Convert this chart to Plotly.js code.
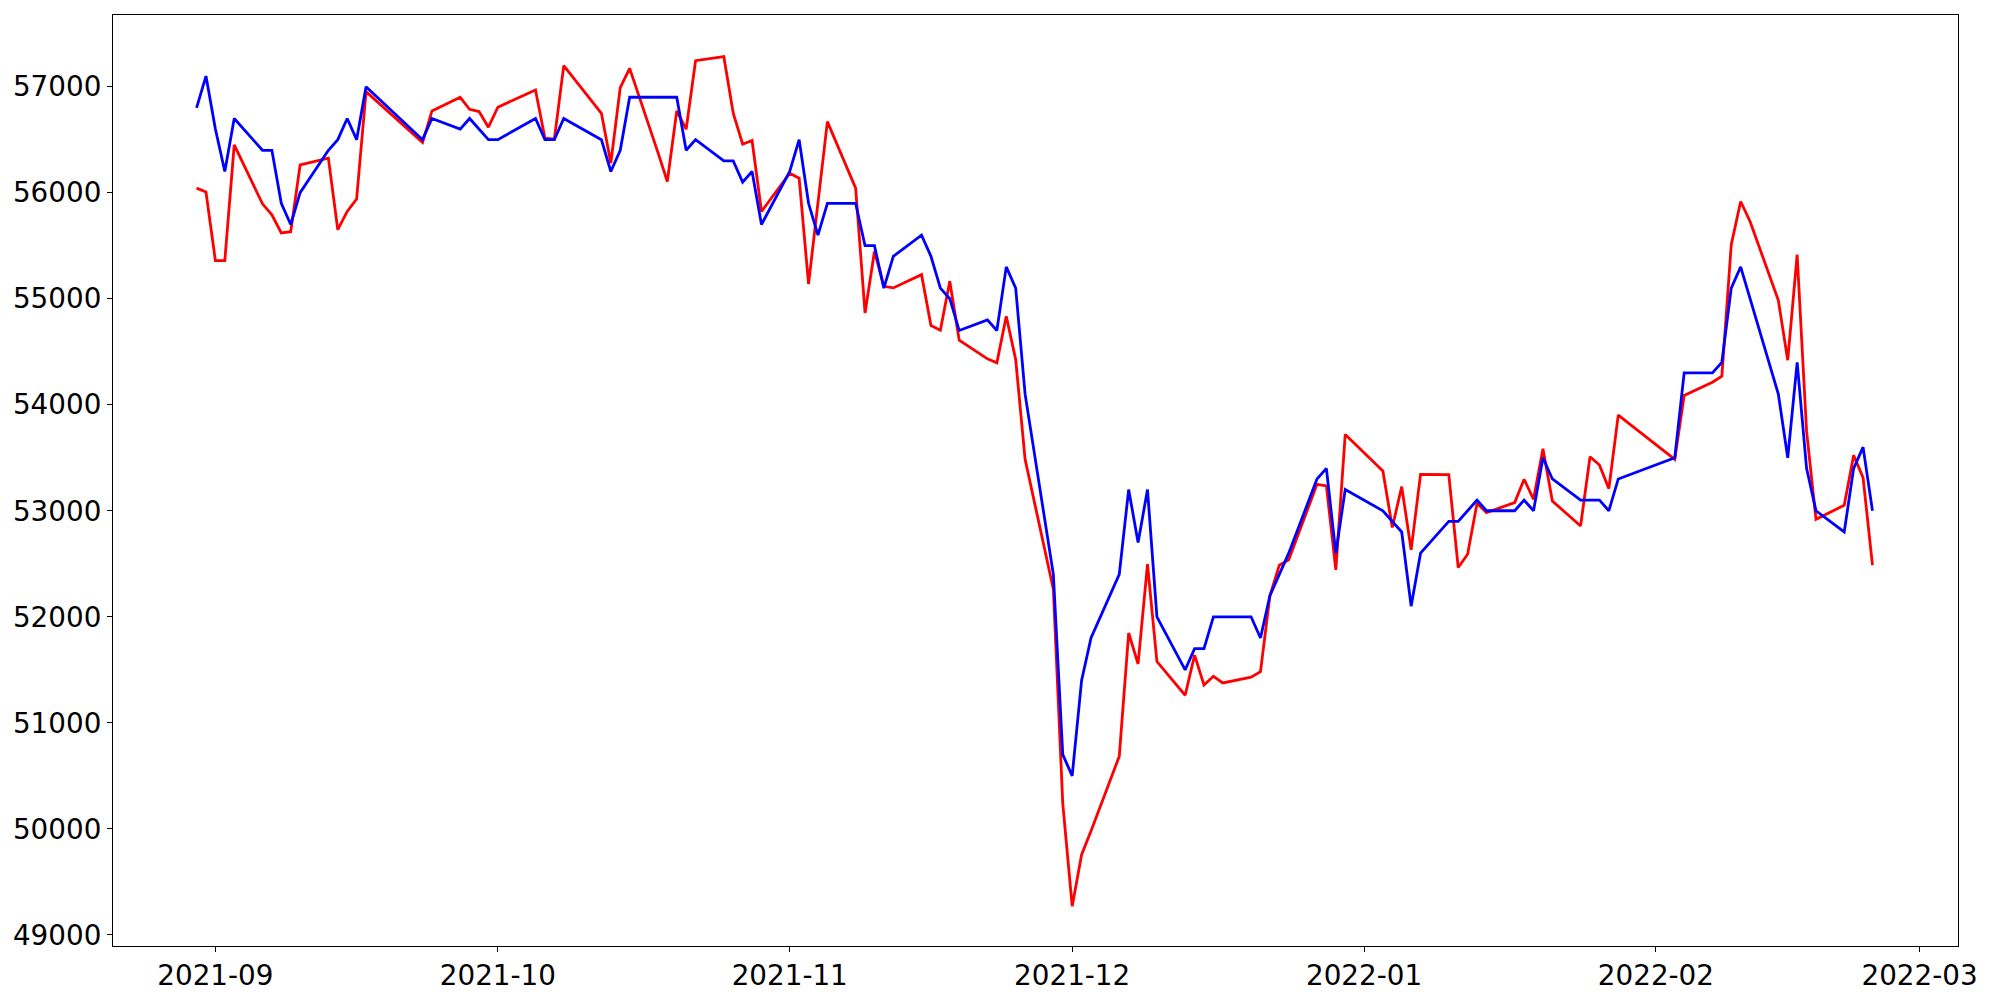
<!DOCTYPE html>
<html>
<head>
<meta charset="utf-8">
<script src="https://cdn.plot.ly/plotly-3.0.1.min.js"></script>
<style>html,body{margin:0;padding:0;background:#fff;}#chart{width:2000px;height:1000px;}</style>
</head>
<body>
<div id="chart"></div>
<script>
const dates = [
"2021-08-30","2021-08-31","2021-09-01","2021-09-02","2021-09-03","2021-09-06","2021-09-07","2021-09-08","2021-09-09","2021-09-10",
"2021-09-13","2021-09-14","2021-09-15","2021-09-16","2021-09-17","2021-09-23","2021-09-24","2021-09-27","2021-09-28","2021-09-29",
"2021-09-30","2021-10-01","2021-10-05","2021-10-06","2021-10-07","2021-10-08","2021-10-12","2021-10-13","2021-10-14","2021-10-15",
"2021-10-18","2021-10-19","2021-10-20","2021-10-21","2021-10-22","2021-10-25","2021-10-26","2021-10-27","2021-10-28","2021-10-29",
"2021-11-01","2021-11-02","2021-11-03","2021-11-04","2021-11-05","2021-11-08","2021-11-09","2021-11-10","2021-11-11","2021-11-12",
"2021-11-15","2021-11-16","2021-11-17","2021-11-18","2021-11-19","2021-11-22","2021-11-23","2021-11-24","2021-11-25","2021-11-26",
"2021-11-29","2021-11-30","2021-12-01","2021-12-02","2021-12-03","2021-12-06","2021-12-07","2021-12-08","2021-12-09","2021-12-10",
"2021-12-13","2021-12-14","2021-12-15","2021-12-16","2021-12-17","2021-12-20","2021-12-21","2021-12-22","2021-12-23","2021-12-24",
"2021-12-27","2021-12-28","2021-12-29","2021-12-30","2022-01-03","2022-01-04","2022-01-05","2022-01-06","2022-01-07","2022-01-10",
"2022-01-11","2022-01-12","2022-01-13","2022-01-14","2022-01-17","2022-01-18","2022-01-19","2022-01-20","2022-01-21","2022-01-24",
"2022-01-25","2022-01-26","2022-01-27","2022-01-28","2022-02-03","2022-02-04","2022-02-07","2022-02-08","2022-02-09","2022-02-10",
"2022-02-11","2022-02-14","2022-02-15","2022-02-16","2022-02-17","2022-02-18","2022-02-21","2022-02-22","2022-02-23","2022-02-24"
];

const actual = [
56800,57100,56600,56200,56700,56400,56400,55900,55700,56000,
56400,56500,56700,56500,57000,56500,56700,56600,56700,56600,
56500,56500,56700,56500,56500,56700,56500,56200,56400,56900,
56900,56900,56900,56400,56500,56300,56300,56100,56200,55700,
56200,56500,55900,55600,55900,55900,55500,55500,55100,55400,
55600,55400,55100,55000,54700,54800,54700,55300,55100,54100,
52400,50700,50500,51400,51800,52400,53200,52700,53200,52000,
51500,51700,51700,52000,52000,52000,51800,52200,52400,52600,
53300,53400,52600,53200,53000,52900,52800,52100,52600,52900,
52900,53000,53100,53000,53000,53100,53000,53500,53300,53100,
53100,53100,53000,53300,53500,54300,54300,54400,55100,55300,
55000,54100,53500,54400,53400,53000,52800,53400,53600,53000
];

const predicted = [
56043,56006,55359,55359,56451,55895,55792,55620,55632,56263,
56326,55651,55823,55940,56953,56473,56771,56900,56787,56765,
56618,56806,56969,56514,56505,57198,56749,56279,56991,57173,
56380,56106,56771,56599,57245,57283,56749,56457,56492,55823,
56184,56137,55139,55900,56670,56043,54866,55446,55117,55102,
55227,54747,54703,55164,54608,54433,54395,54834,54426,53485,
52261,50237,49271,49756,49980,50684,51847,51555,52496,51578,
51260,51639,51357,51439,51376,51430,51482,52198,52487,52537,
53250,53235,52443,53720,53375,52842,53228,52631,53344,53340,
52465,52590,53071,52983,53077,53297,53108,53586,53092,52857,
53510,53431,53209,53902,53485,54088,54213,54269,55509,55917,
55729,54985,54420,55415,53751,52920,53052,53523,53313,52487
];

const traces = [
  {x: dates, y: predicted, type: 'scatter', mode: 'lines', name: 'predicted',
   line: {color: '#ff0000', width: 2.8}},
  {x: dates, y: actual, type: 'scatter', mode: 'lines', name: 'actual',
   line: {color: '#0000ff', width: 2.8}}
];

const font = {family: 'DejaVu Sans, sans-serif', size: 27.8, color: '#000'};

const layout = {
  width: 2000, height: 1000,
  margin: {l: 113, r: 42, t: 15, b: 54, pad: 0},
  paper_bgcolor: '#fff', plot_bgcolor: '#fff',
  showlegend: false,
  font: font,
  xaxis: {
    type: 'date',
    range: ['2021-08-21 03:00', '2022-03-05 02:00'],
    dtick: 'M1', tick0: '2021-09-01', tickformat: '%Y-%m',
    showgrid: false, zeroline: false,
    showline: true, mirror: true, linecolor: '#000', linewidth: 1.1,
    ticks: 'outside', ticklen: 5, tickwidth: 1.1, tickcolor: '#000',
    tickfont: font
  },
  yaxis: {
    range: [48895, 57676],
    dtick: 1000, tick0: 0, tickformat: 'd',
    showgrid: false, zeroline: false,
    showline: true, mirror: true, linecolor: '#000', linewidth: 1.1,
    ticks: 'outside', ticklen: 5, tickwidth: 1.1, tickcolor: '#000',
    tickfont: font
  }
};

Plotly.newPlot('chart', traces, layout, {displayModeBar: false, staticPlot: true});
</script>
</body>
</html>
